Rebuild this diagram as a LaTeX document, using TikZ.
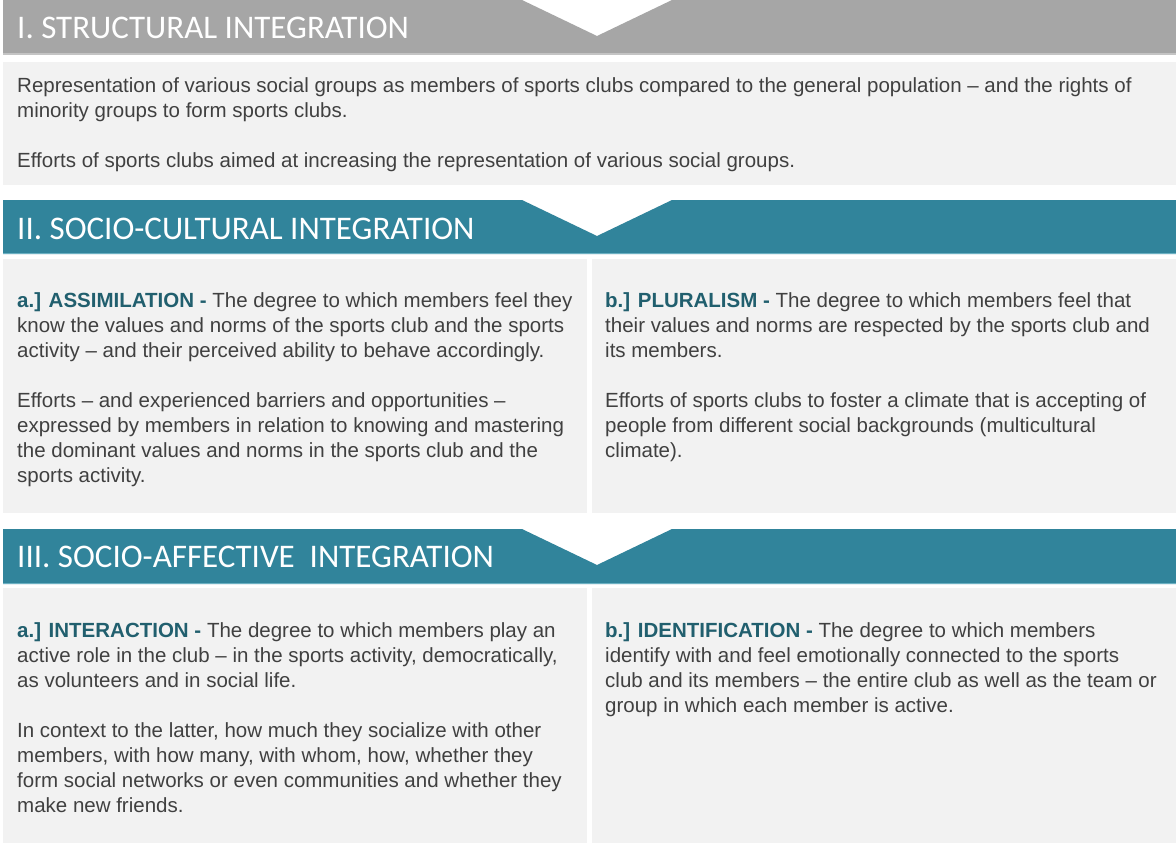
\documentclass[tikz,border=0pt]{standalone}
\usepackage{fontspec}
\setmainfont{Liberation Sans}
\newfontfamily\headfont{Carlito}
\usetikzlibrary{positioning}
\definecolor{bannergrey}{HTML}{A6A6A6}
\definecolor{greyline}{HTML}{C4C4C4}
\definecolor{bannerteal}{HTML}{31849B}
\definecolor{tealline}{HTML}{6AAFC1}
\definecolor{panelgrey}{HTML}{F2F2F2}
\definecolor{bodytext}{HTML}{404040}
\definecolor{keyteal}{HTML}{215F6E}
\tikzstyle{panel} = [fill=panelgrey]
\tikzstyle{title} = [anchor=west, inner sep=0pt, text=white, font=\headfont\fontsize{33}{35}\selectfont]
\tikzstyle{body} = [anchor=north west, inner sep=0pt, align=left, text=bodytext, font=\fontsize{20.5}{25}\selectfont]
\newcommand{\keyterm}[1]{\textcolor{keyteal}{\textbf{#1}}}

\begin{document}
\begin{tikzpicture}[x=1pt,y=-1pt]
	\useasboundingbox[fill=white] (0,0) rectangle (1176,843);
	% banners with the notch cut out of their top edge
	\fill[bannergrey] (3,0) -- (522,0) -- (597,36) -- (672,0) -- (1176,0) -- (1176,55) -- (3,55) -- cycle;
	\fill[greyline] (3,53.5) rectangle (1176,55);
	\fill[bannerteal] (3,200) -- (522,200) -- (597,236) -- (672,200) -- (1176,200) -- (1176,254) -- (3,254) -- cycle;
	\fill[tealline] (3,252.5) rectangle (1176,254);
	\fill[bannerteal] (3,529) -- (522,529) -- (597,565) -- (672,529) -- (1176,529) -- (1176,584) -- (3,584) -- cycle;
	\fill[tealline] (3,582.5) rectangle (1176,584);
	% panels
	\fill[panel] (3,62) rectangle (1176,185);
	\fill[panel] (3,259) rectangle (587,513);
	\fill[panel] (592,259) rectangle (1176,513);
	\fill[panel] (3,588) rectangle (587,843);
	\fill[panel] (592,588) rectangle (1176,843);

	\node[title] (structural) at (17,28) {I. STRUCTURAL INTEGRATION};
	\node[title] (cultural) at (17,229) {II. SOCIO-CULTURAL INTEGRATION};
	\node[title] (affective) at (17,557) {III. SOCIO-AFFECTIVE~~INTEGRATION};

	\node[body] (representation) at (17,77.5) {Representation of various social groups as members of sports clubs compared to the general population -- and the rights of\\
		minority groups to form sports clubs.\\[25pt]
		Efforts of sports clubs aimed at increasing the representation of various social groups.};
	\node[body] (assimilation) at (17,292) {\keyterm{a.] ASSIMILATION -} The degree to which members feel they\\
		know the values and norms of the sports club and the sports\\
		activity -- and their perceived ability to behave accordingly.\\[25pt]
		Efforts -- and experienced barriers and opportunities --\\
		expressed by members in relation to knowing and mastering\\
		the dominant values and norms in the sports club and the\\
		sports activity.};
	\node[body] (pluralism) at (605,292) {\keyterm{b.] PLURALISM -} The degree to which members feel that\\
		their values and norms are respected by the sports club and\\
		its members.\\[25pt]
		Efforts of sports clubs to foster a climate that is accepting of\\
		people from different social backgrounds (multicultural\\
		climate).};
	\node[body] (interaction) at (17,622) {\keyterm{a.] INTERACTION -} The degree to which members play an\\
		active role in the club -- in the sports activity, democratically,\\
		as volunteers and in social life.\\[25pt]
		In context to the latter, how much they socialize with other\\
		members, with how many, with whom, how, whether they\\
		form social networks or even communities and whether they\\
		make new friends.};
	\node[body] (identification) at (605,622) {\keyterm{b.] IDENTIFICATION -} The degree to which members\\
		identify with and feel emotionally connected to the sports\\
		club and its members -- the entire club as well as the team or\\
		group in which each member is active.};
\end{tikzpicture}
\end{document}
